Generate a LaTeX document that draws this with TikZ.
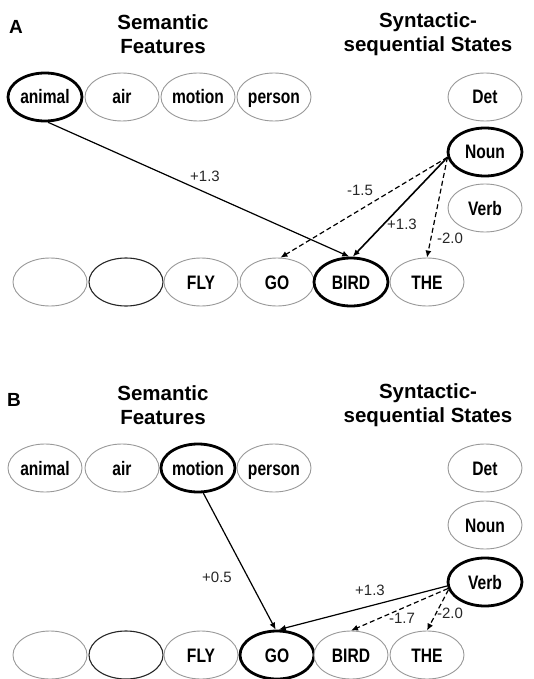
\documentclass[tikz,border=0pt]{standalone}
\usepackage{fontspec}
\setmainfont{Liberation Sans}
\newfontfamily\narrowfont[FakeStretch=0.8]{Liberation Sans}
\usetikzlibrary{arrows.meta,shapes.geometric}
\tikzset{
  ell/.style={ellipse, minimum width=74pt, minimum height=48pt, inner sep=0pt, fill=white,
    text height=14.5pt, text depth=0.5pt,
    font=\narrowfont\bfseries\fontsize{19.5}{21}\selectfont},
  lite/.style={ell, draw=black!40, line width=0.9pt},
  hot/.style={ell, draw=black, line width=2.8pt},
  dark/.style={ell, draw=black!85, line width=1.1pt},
  title/.style={font=\bfseries\fontsize{20.5}{23.5}\selectfont, align=center, inner sep=0pt},
  panel/.style={font=\bfseries\fontsize{19}{21}\selectfont, inner sep=0pt},
  wlab/.style={font=\fontsize{15}{17}\selectfont, text=black!85, inner sep=1pt},
  edge/.style={line width=1.2pt, -{Latex[length=7pt,width=6pt]}},
  dedge/.style={edge, dash pattern=on 5pt off 3pt},
}
\begin{document}
\begin{tikzpicture}[x=1pt,y=-1pt]
\useasboundingbox (0,0) rectangle (533,679);
% ---------------- Panel A ----------------
\node[panel] (labA) at (16,27) {A};
\node[title] (semA) at (163,34) {Semantic\\Features};
\node[title] (synA) at (428,34) {Syntactic-\\sequential States};
\node[hot]  (animalA) at (45,97)  {animal};
\node[lite] (airA)    at (122,97) {air};
\node[lite] (motionA) at (198,97) {motion};
\node[lite] (personA) at (274,97) {person};
\node[lite] (detA)    at (485,97) {Det};
\node[hot]  (nounA)   at (485,152) {Noun};
\node[lite] (verbA)   at (485,208) {Verb};
\node[lite] (e1A)   at (50,282)  {};
\node[dark] (e2A)   at (126,282) {};
\node[lite] (flyA)  at (201,282) {FLY};
\node[lite] (goA)   at (277,282) {GO};
\node[hot]  (birdA) at (351,282) {BIRD};
\node[lite] (theA)  at (427,282) {THE};
\draw[edge]  (animalA.-83) -- (birdA.94);
\draw[dedge] (nounA.188) -- (goA.82);
\draw[edge, line width=1.6pt] (nounA.188) -- (birdA.86);
\draw[dedge] (nounA.188) -- (theA.north);
\node[wlab] (wA1) at (205,176) {+1.3};
\node[wlab] (wA2) at (360,190) {-1.5};
\node[wlab] (wA3) at (402,224) {+1.3};
\node[wlab] (wA4) at (450,238) {-2.0};
% ---------------- Panel B ----------------
\node[panel] (labB) at (14,400) {B};
\node[title] (semB) at (163,405) {Semantic\\Features};
\node[title] (synB) at (428,405) {Syntactic-\\sequential States};
\node[lite] (animalB) at (45,468)  {animal};
\node[lite] (airB)    at (122,468) {air};
\node[hot]  (motionB) at (198,468) {motion};
\node[lite] (personB) at (274,468) {person};
\node[lite] (detB)    at (485,468) {Det};
\node[lite] (nounB)   at (485,525) {Noun};
\node[hot]  (verbB)   at (485,582) {Verb};
\node[lite] (e1B)   at (50,655)  {};
\node[dark] (e2B)   at (126,655) {};
\node[lite] (flyB)  at (201,655) {FLY};
\node[hot]  (goB)   at (277,655) {GO};
\node[lite] (birdB) at (351,655) {BIRD};
\node[lite] (theB)  at (427,655) {THE};
\draw[edge]  (motionB.-78) -- (goB.93);
\draw[edge]  (verbB.186) -- (goB.86);
\draw[dedge] (verbB.190) -- (birdB.north);
\draw[dedge] (verbB.192) -- (theB.north);
\node[wlab] (wB1) at (217,577) {+0.5};
\node[wlab] (wB2) at (370,590) {+1.3};
\node[wlab] (wB3) at (402,618) {-1.7};
\node[wlab] (wB4) at (450,613) {-2.0};
\end{tikzpicture}
\end{document}
